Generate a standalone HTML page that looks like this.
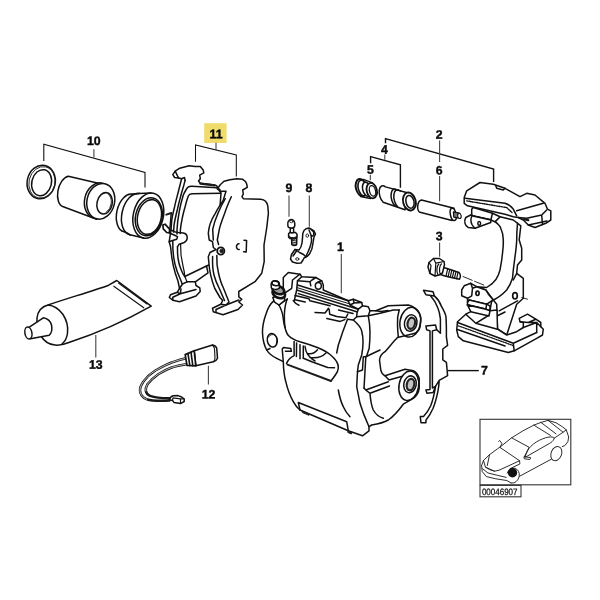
<!DOCTYPE html>
<html><head><meta charset="utf-8"><title>Brake caliper parts diagram</title>
<style>
html,body{margin:0;padding:0;background:#fff;}
body{width:600px;height:600px;overflow:hidden;}
svg{display:block;}
.l{fill:none;stroke:#111;stroke-width:1.5;stroke-linecap:round;stroke-linejoin:round;}
.w{fill:#fff;stroke:#111;stroke-width:1.5;stroke-linecap:round;stroke-linejoin:round;}
.k{fill:#1c1c1c;stroke:#1c1c1c;stroke-width:1;stroke-linejoin:round;}
.b{fill:none;stroke:#111;stroke-width:1.4;stroke-linecap:butt;stroke-linejoin:miter;}
.g{fill:none;stroke:#444;stroke-width:1.1;}
.h{fill:none;stroke:#1c1c1c;stroke-width:1.8;stroke-linecap:round;stroke-linejoin:round;}
.f{fill:none;stroke:#222;stroke-width:0.9;stroke-linecap:round;stroke-linejoin:round;}
text{text-rendering:geometricPrecision;font-family:"Liberation Sans",sans-serif;font-weight:bold;font-size:12.3px;fill:#0a0a0a;stroke:#0a0a0a;stroke-width:.4;text-anchor:middle;}
text.n{font-weight:normal;font-size:9.2px;text-anchor:start;fill:#111;stroke:#111;stroke-width:.25;}
</style></head><body>
<svg width="600" height="600" viewBox="0 0 600 600">
<rect width="600" height="600" fill="#fff"/>

<!-- LABELS-AND-LEADERS -->
<g id="labels" style="opacity:.999">
<rect x="204.2" y="123.2" width="22.4" height="19.8" fill="#f0dc6c"/>
<text x="93.8" y="144.9" transform="rotate(0.05 93.8 144.9)">10</text>
<text x="216" y="138.2" transform="rotate(0.05 216 138.2)">11</text>
<text x="288.8" y="192" transform="rotate(0.05 288.8 192)">9</text>
<text x="309" y="192" transform="rotate(0.05 309 192)">8</text>
<text x="340.5" y="251" transform="rotate(0.05 340.5 251)">1</text>
<text x="439.2" y="138.7" transform="rotate(0.05 439.2 138.7)">2</text>
<text x="384.4" y="153.8" transform="rotate(0.05 384.4 153.8)">4</text>
<text x="370.3" y="173.7" transform="rotate(0.05 370.3 173.7)">5</text>
<text x="439.2" y="174.4" transform="rotate(0.05 439.2 174.4)">6</text>
<text x="439.2" y="240.2" transform="rotate(0.05 439.2 240.2)">3</text>
<text x="484.4" y="374.5" transform="rotate(0.05 484.4 374.5)">7</text>
<text x="95.8" y="368.8" transform="rotate(0.05 95.8 368.8)">13</text>
<text x="208.5" y="398.4" transform="rotate(0.05 208.5 398.4)">12</text>
<path class="b" style="stroke-width:1.1" d="M43.8,161V144.2L145,172.5V187.5"/>
<path class="g" d="M93.9,149.3V157.6"/>
<path class="b" style="stroke-width:1.05" d="M195.5,161.8V145L236.3,155V176.5"/>
<path class="g" d="M216,142.7V149.7"/>
<path class="g" d="M289,195.6V216.7M309.3,195.6V226.7M341.3,254V293.3"/>
<path class="b" d="M385.5,143.3V138.7L493.6,169V182"/>
<path class="g" d="M439.6,140.5V162M439.6,176V201.2M439.6,242.5V256.7M370.3,174.8V180.2M384.8,154.5V159.7"/>
<path class="b" d="M370.6,163.2V156.6L400.4,164.7V187.7"/>
<path class="b" d="M448,370.6H478.8"/>
<path class="g" d="M95.8,335V357.4M208.4,365.8V384.4"/>
</g>

<!-- PART10 -->
<g id="p10">
<!-- seal ring -->
<ellipse class="w" cx="41.2" cy="182" rx="14" ry="16.9" transform="rotate(13 41.2 182)"/>
<ellipse class="f" cx="42" cy="182.4" rx="13" ry="15.9" transform="rotate(13 42 182.4)"/>
<ellipse class="w" cx="41.6" cy="182.7" rx="9.8" ry="13.2" transform="rotate(13 41.6 182.7)"/>
<!-- piston -->
<path class="w" d="M68.3,176.3L98.3,183.3L96.7,219.2L63.3,206.7A9,15.6 13 0 1 68.3,176.3Z"/>
<ellipse class="w" cx="98.4" cy="200.7" rx="13.8" ry="18" transform="rotate(13 98.4 200.7)"/>
<ellipse class="w" cx="100.8" cy="201.3" rx="13.8" ry="18" transform="rotate(13 100.8 201.3)"/>
<ellipse class="l" cx="104.6" cy="203.3" rx="7.6" ry="10.8" transform="rotate(13 104.6 203.3)"/>
<path class="f" d="M108.5,194.5A6.8,10 13 0 1 106.5,212"/>
<!-- dust boot -->
<ellipse class="w" cx="128.3" cy="213" rx="11.5" ry="19.2" transform="rotate(13 128.3 213)"/>
<path class="w" d="M131.5,194L146,192.5L142,238.3L127,231.8Z" style="stroke:none"/>
<ellipse class="w" cx="134.5" cy="214.3" rx="12.5" ry="21" transform="rotate(13 134.5 214.3)"/>
<path class="w" d="M139,193.5L152,192.5L145,238.5L130,235Z" style="stroke:none"/>
<path class="l" d="M131.8,194.2L139.5,193.2M124.5,231.4L129.8,234.6"/>
<ellipse class="w" cx="148.3" cy="215.6" rx="15" ry="23" transform="rotate(13 148.3 215.6)"/>
<path class="l" d="M139.2,193.6L151,193M130,234.8L143.5,238"/>
<ellipse class="l" cx="148.8" cy="216.8" rx="13.2" ry="19.2" transform="rotate(13 148.8 216.8)"/>
<ellipse class="l" cx="149.4" cy="217" rx="11.8" ry="17.6" transform="rotate(13 149.4 217)"/>
</g>
<!-- PART11 -->
<g id="p11">
<!-- pad 1 (rear) -->
<path class="w" d="M172.8,174.6L175.2,171.1L179.8,168.2L189.2,165.8L195,166.4L200.3,166.4L203.2,169.9L203.8,172.8L199.7,175.2L200.3,178.7L198.5,181L200.3,183.3L214.8,185.1L216.7,185.8L221,193L216,262L206.5,266L208,272.8L195.3,281.8L196,285.5L199.8,287.8L200.2,291.5L196,296L179.5,301.7L172.8,300.2L169.3,297.5L170.5,294.8L177.3,292.3L179.5,288.5L178,281C173.5,270 171.5,258 170.6,247L169.2,241.7L171,230L171.7,220.7C172,217 173,213 174.6,206.7C175.5,202 177,197 178.7,190.3L181.6,178.7L178.7,178.1L174.6,177.5Z"/>
<path class="h" d="M200.3,183.6L214.8,185.4" style="stroke-width:2.2"/>
<path class="l" d="M175.2,171.1L177.5,175.8L178.7,178.1M181.6,178.7L184.5,177.5L185.1,180.4"/>
<path class="l" d="M185.1,180.4C184,185 182.8,189 181.6,192.7C180,199 178.5,204 177.5,209C176,215 174.8,220 174,225.3L173.6,232"/>
<path class="l" d="M217,187.8L192,186.2C189,186 187.5,187 186.5,189C185,191.5 184,193.5 183.3,195C181.5,201 180.2,206 179.3,211.3C178,218 177.3,224 177,230L177,234"/>
<path class="l" d="M220.7,193.3L192,193.8C190,194 189,194.6 188.3,196C187,199.5 186,203 185.1,206.7C183.8,211 183,214.5 182.2,218.3C181.3,222.5 180.7,226 180.4,230L180.2,233.5"/>
<path class="l" d="M171,230L174.2,231.7L178.3,232.5L183.3,232.9C185.5,233.3 187,234.5 187.2,237C187.3,239.5 186,241.5 184.2,242.5L179.2,244.2L177.5,246.7"/>
<path class="l" d="M170,233.3L174.2,235L177.5,236.7L176.7,239.2L171.7,240.8L169.2,241.7"/>
<path class="l" d="M180.6,244C180.3,252 181.5,260 183,266C184,270 184.6,273 184.8,276.5L187,281.8" style="stroke-width:1.2"/>
<path class="l" d="M177.5,246.7C177.3,254 178.5,263 180.5,268C182,272 183.5,275 184.8,276.5"/>
<path class="l" d="M172.8,241C172.5,252 174.5,264 177,271C178.5,275 180.5,279 182,283.5"/>
<path class="l" d="M184.8,276.5L206.5,266M187,281.8L195.3,281.8"/>
<path class="l" d="M179.5,288.5L182.5,284L187,281.8M177.3,292.3L180.3,293.8L181,289M180.3,293.8L172.8,297.2L172.8,300.2M180.3,293.8L196,289.5"/>
<!-- retaining clip on pad 1 -->
<path class="h" d="M166.3,214.6L171.3,213" style="stroke-width:2"/>
<path class="l" d="M171.2,213.8L169.8,230.5"/>
<path class="w" d="M162.9,225L165,224.2L169.6,229.2L169.4,232.8L166.7,232.5L163.3,228.8Z" style="stroke-width:1.7"/>
<!-- pad 2 (front) -->
<path class="w" d="M217.3,188.7L220.5,184.5L224,181.3L230,179.8L236.7,178.7L242.7,179.3L245.5,181.5L246.7,184L247.3,187.3L242.7,190L243.3,194L242,196.7L243.3,198.7L260.7,199.3Q266.8,200 267.8,206L268.4,213.3L266.7,228L264,245L264.2,261.7L261.7,273.3L255,281.7L238.8,291.5L238.8,296.8L241.8,299.3L238.8,302L242.5,305L238,309.5L223,314.8L213.3,311.8L212.5,308.3L220.8,304.3L222.7,300.5L220,297.5L214.8,288.5C211.5,280 209.3,270 208.8,262L208.3,256.7L210,252.5L216,249.5L213.3,247.5L212.5,241.7L209.2,240L208.3,233.3C208.6,228 211,220 215.3,213.3C218,208 221,204 223.3,200L226,191.3L220,191.3Z"/>
<path class="l" d="M217.3,188.7L219.8,189.3L220,191.3"/>
<path class="l" d="M231.3,196.7C228,204 226,209 224.7,213.3C222.5,219 220.5,224 219.3,229.3L217.3,240L218.6,244.5"/>
<path class="l" d="M225.3,198.7C222,204 220,208.5 218,213.3C215.5,219 213.8,224 212.7,229.3L213.3,240"/>
<circle class="w" cx="220.8" cy="251" r="3.6" style="stroke-width:1.8"/>
<circle class="k" cx="221.6" cy="251" r="1.7"/>
<path class="l" d="M216.8,255.5C216.6,262 217.5,269 218.5,273C220,280 221.5,284 223,287L229,302L226,305"/>
<path class="l" d="M212.6,256.5C212.3,265 213,271 214,275C215.5,281 217.5,285 219.3,288.5L224.5,300.5"/>
<path class="l" d="M220.8,304.3L226,305L238.8,300M226,305L216,309.5L216,312.5"/>
<path class="l" d="M239,243.8C235.6,243.8 235.6,249.8 239.2,249.6M244,240.2L246.6,240.4L246.2,252L243.6,251.8"/>
</g>
<!-- PART9-8 -->
<g id="p98">
<!-- bleeder screw 9 -->
<path class="w" d="M291.6,238.5L291.8,244.6Q294.2,246.2 296.6,244.8L296.8,238.5Z"/>
<path class="l" d="M291.7,240.3L296.7,241M291.7,242L296.7,242.8M291.8,243.8L296.6,244.4" style="stroke-width:.9"/>
<path class="w" d="M288.6,233.6L290.2,232.3L295.5,232.6L297,234.2L297,237.6L294.6,238.9L290.2,238.6L288.6,237.2Z"/>
<path class="h" d="M288.8,236.2L290.4,237.6L294.6,237.9L296.8,236.6" style="stroke-width:1.5"/>
<path class="w" d="M290.4,227.5L290.2,232.3Q292,233.2 293.6,232.5L293.6,227.8Z"/>
<path class="w" d="M287.9,226C287.3,222.5 288.3,219.6 291,219.5C293.8,219.4 295,222.2 294.8,225.6C294.5,227.5 293,228.2 291,228.1C289.2,228 288.1,227.4 287.9,226Z"/>
<ellipse class="l" cx="291.3" cy="221.5" rx="1.6" ry="1.3" style="stroke-width:.8"/>
<!-- clip 8 -->
<path class="w" d="M309,228L306,228.8L304,230.5L302.8,233.5L302.5,238L302,243C301.5,246 300.5,248.5 299,250L295,249.5L291.5,254.5L290.5,259L292.5,262L297,263.2L301,263L303,260L304,258C306.5,257 308.5,255.5 309.5,254C311.5,251 312.7,247 313,243L314,237L315.5,234L314,231L311.5,229.5Z"/>
<path class="l" d="M309,230C310.6,233 311.7,236 311.6,240C311.3,245 309.5,249.5 305.5,257"/>
<path class="l" d="M311.6,229.8C313.5,231 314.3,232.8 313.8,234.6C313.3,236.2 312,236.4 311.4,235.6"/>
<path class="l" d="M295,249.5L299.5,252.5L303.5,254.5L305.8,256.8M296.5,251L293,256"/>
<ellipse class="l" cx="307.3" cy="235.6" rx="1.3" ry="1.7" style="stroke-width:.9"/>
<ellipse class="l" cx="297.3" cy="259" rx="1.6" ry="1.3" style="stroke-width:.9"/>
</g>
<!-- PART1 -->
<g id="p1">
<!-- main silhouette -->
<path class="w" d="M274,300.6C270,304 267.5,309 266,314C263.5,321 262.3,327 262.5,333C262.8,340 264.5,346 266.7,350C269,354 273,356.5 276.7,358.3L283.3,361.7C283.5,370 284.5,377 285.8,381.7C287.5,389 290,396 293.3,401.7C295,405 297.5,408 300,410L348.3,430.8L362.5,435.8L369,430.8L369,426.7L371.7,425C378,424 384,422.5 388.3,420C394,416 399,410 403.3,404.2L413.3,398.3C416.5,396 418.7,392 419.2,388.3L419.2,378.3C418,374.5 416,372 413.3,370.8L405,369.2L385,375.8C382.5,374.5 381.2,372.5 380.8,370L379.5,360C380,356 382,353.5 385,351.7C390,346 394,341 397.5,337.5L405,335.8L415,333.3C418,331.5 419.7,329 420,326.7L420.8,318.3C420.3,314.5 419,312 416.7,310C414,307 411,305.5 408.3,305L388.3,305.8L375.8,310.8L370,310.8L368.3,306.7L362.5,305.8L361.7,302.5L353.3,299.2L348.3,300.8L323.3,290L323.3,285L321.7,280.8L315.8,277.5L301.7,276.7L300,274.2L288.3,272.5L283.3,277.5L283.3,294L280,299Z"/>
<!-- top left cover and ridge -->
<path class="l" d="M300,274.2L292.5,280L291.7,288.3L283.3,294.2"/>
<path class="l" d="M301.7,276.7L297.5,280.8L296.7,290L294.2,300.8"/>
<path class="l" d="M297.5,280.8L310,281.7L310.8,285.8M315.8,277.5L312,280L310,281.7M321.7,280.8L317.5,282.2"/>
<ellipse class="l" cx="318.3" cy="285.8" rx="3" ry="3.4"/>
<!-- top parallel ridges -->
<path class="l" d="M297.5,285L348.3,300.8"/>
<path class="l" d="M297,287.6L350,304" style="stroke-width:1"/>
<path class="h" d="M296.7,290L358.3,309.2" style="stroke-width:1.7"/>
<path class="l" d="M298.3,293.6L356.7,311.8"/>
<path class="l" d="M295,295.6L309,298.8L310,300.8L330,305.8"/>
<path class="l" d="M315,312.4L325,313L327.3,310L328.5,308.3M329.2,309.2L329.7,314.2L336.7,316.5L346,317.7L347.8,314M338.5,310L353,313.6M295,299.8L305.2,302"/>
<path class="l" d="M326.8,318.6L340.2,321.4L344.8,319.6"/>
<path class="l" d="M293.3,300.6C294.5,302.5 296.5,304.2 299,305.2"/>
<!-- raised block right of ridges -->
<path class="l" d="M348.3,300.8L350,305M353.3,299.2L354,303L361.7,302.5M354,303L350,305L358.3,309.2L362.5,305.8M358.3,309.2L357,313L356.7,316.7M370,310.8L368.3,315.8"/>
<!-- bridge front edge and arm -->
<path class="l" d="M347.5,319.2L353.3,320L356.7,316.7L368.3,315.8L380,313.3L393.3,310L399.2,310"/>
<path class="l" d="M375.8,310.8L381,311.6L388,310.5"/>
<path class="l" d="M353.3,320C358,324 361,328 361.7,331C363.5,338 363.5,346 361.7,355L358.3,365L357.5,371.7"/>
<path class="l" d="M368.3,315.8C369.5,322 370,327 370,331.7C370,338 369.6,344 369.2,348.3L366.7,355.8L365.8,356.7L363.3,356.7L362.5,370L357.5,371.7L356.7,386.7L360,403.3C362,410 365,418 369,426.7"/>
<path class="l" d="M347.5,319.2C345,326 343,331 341.7,335C340.5,339 339,343 338.3,345L336.7,353"/>
<path class="l" d="M365.8,356.7L380,350"/>
<path class="l" d="M365.8,356.7L364.5,380L364,388"/>
<!-- upper lug -->
<ellipse class="l" cx="410.3" cy="322.2" rx="10.3" ry="15" transform="rotate(10 410.3 322.2)"/>
<ellipse class="l" cx="410.7" cy="323" rx="6.2" ry="8.3" transform="rotate(12 410.7 323)"/>
<ellipse cx="411.3" cy="323.3" rx="3.7" ry="5.7" transform="rotate(12 411.3 323.3)" fill="#c4c4c4" stroke="#222" stroke-width="2.2"/>
<path class="l" d="M399.2,310C397.6,315 397.2,321 397.5,325C397.6,330 398,334 398.3,336.7"/>
<!-- lower lug -->
<ellipse class="l" cx="408.8" cy="385.8" rx="9.8" ry="14.8" transform="rotate(10 408.8 385.8)"/>
<ellipse class="l" cx="410" cy="384.3" rx="6.2" ry="8.5" transform="rotate(12 410 384.3)"/>
<ellipse cx="410.5" cy="384.6" rx="3.7" ry="5.8" transform="rotate(12 410.5 384.6)" fill="#c4c4c4" stroke="#222" stroke-width="2.2"/>
<path class="l" d="M385,375.8L389,380L401.5,376.5"/>
<path class="l" d="M364,388L365.8,390L388.3,381.7M370,393.3C370.5,400 371.5,406 373.3,410C375.5,414 379,417 383.3,418.3M365.8,390L370,393.3L389.5,386"/>
<!-- left body details -->
<ellipse class="l" cx="272.3" cy="340.3" rx="5" ry="6.8" transform="rotate(-10 272.3 340.3)"/>
<path class="l" d="M268.6,337C270,334.5 273,333.8 275.2,335.5C277,337.5 277.3,341 276.3,344" style="stroke-width:1"/>
<path class="l" d="M274.5,302L279,305L287.3,299"/>
<path class="l" d="M279,305C281,309 282.3,312 282.8,315.5C283.5,320 284,325 285,327.5"/>
<path class="l" d="M287.3,299C285.5,303 284.5,310 284.3,315.5C284.3,320 284.5,324 285,327.5C286,332 287.5,335 289.5,336.5C292,339 296,340.5 300,341.8C306,343.5 312,345.5 318,347.8C323,350 327,352 330,354.5C333,357 335.5,359.5 336.8,362C338,364 338.5,366 338.3,368C338,370.5 337.3,372.5 336,374C334.5,376.5 332.5,379 331,381"/>
<path class="l" d="M283.3,361.7L282.4,351.3L282.3,349L283.5,347.6L290.8,348.5L291.4,351.3L285.4,351.3"/>
<path class="l" d="M266.7,350L270,348.5"/>
<!-- window -->
<path class="l" d="M303.3,358.3L312.5,362L327.7,367.5L334.5,367.8"/>
<path class="l" d="M294.1,341.5L294.1,355.6C291,357 288,360 286.5,363.5M296.6,343L296.4,356.5M300,344.8L300,358.8M303.3,346L303.3,358.3"/>
<path class="h" d="M287.5,364.6L331,381" style="stroke-width:2"/>
<path class="l" d="M305,346.2C305.5,352 308,357 315,361M307.5,353.5C311,354.2 315,353 317.5,349.8M310,357.5C316,358.5 322,357 326,353"/>
<!-- front lower face -->
<path class="l" d="M298.3,402.5L346.7,421.7L348.3,430.8M298.3,402.5L300,410"/>
<path class="k" d="M302,411L309,414L309,415.3L302.5,412.6Z M348,430.8L352,432.4L351.5,434L347.8,432.5Z"/>
<!-- inner curves -->
<path class="l" d="M338.3,390C339.5,397 341,402 343.3,406.7C345,410.5 347.5,414 350,416.7"/>
<!-- bleeder on caliper -->
<path class="w" d="M272.8,297.5L274.5,302L279,305L284.5,300.5L285,293Z"/>
<ellipse class="w" cx="278.8" cy="293.6" rx="6.6" ry="4.2" transform="rotate(22 278.8 293.6)" style="stroke-width:2.6"/>
<ellipse class="w" cx="278.3" cy="290" rx="6.2" ry="3.9" transform="rotate(22 278.3 290)" style="stroke-width:2.6;fill:#999"/>
<path class="w" d="M271.1,285C270.8,282.5 272.6,280.8 275.2,280.8C277.8,280.8 279.5,282.5 279.5,285L279.3,288.2C277,290 273.5,289.6 271.4,288Z"/>
<ellipse class="l" cx="275.4" cy="283.4" rx="3.6" ry="2.2" transform="rotate(12 275.4 283.4)"/>
</g>
<!-- PART13 -->
<g id="p13">
<path class="w" d="M48,305C66,298.8 92,291.2 108.7,285.2L116.8,280.5L151.2,306.2C125,321 97,333.5 68.8,342.5C64,344.5 59,345.5 55,345C49,344.5 44,341 41,336C38,331 36.5,324 37,318C37.8,311.5 42,306.5 48,305Z"/>
<path class="l" d="M48,305C54,305.5 59,309 63,314.5C66.5,320 68.3,327 67.5,333C67,338 65,341.5 62,344"/>
<path class="l" d="M113.8,286.2L143.8,307.8M118.5,283L147,304" style="stroke-width:1.1"/>
<!-- nozzle -->
<path class="w" d="M29.3,327.2L43.3,317.8C47.5,318.5 50.5,321.5 51.5,325C52.4,329 51.5,333 49.2,335.3L30.5,338.8Z"/>
<ellipse class="w" cx="28.4" cy="333" rx="3.5" ry="6" transform="rotate(-10 28.4 333)"/>
</g>
<!-- PART12 -->
<g id="p12">
<!-- wires -->
<path d="M186,358.3C180,359.5 176,361 171.7,362.5C165,365 160,368 155,370.8C150,374 146,378 143.3,381.7C141,385 140,388 140,390C140,394 142.5,397.5 146.7,399.2C152,401 160,401 169.5,400.6" fill="none" stroke="#1a1a1a" stroke-width="2.5" stroke-linecap="round"/>
<path d="M186,358.3C180,359.5 176,361 171.7,362.5C165,365 160,368 155,370.8C150,374 146,378 143.3,381.7C141,385 140,388 140,390C140,394 142.5,397.5 146.7,399.2" fill="none" stroke="#fff" stroke-width=".7" stroke-linecap="round"/>
<path d="M186.5,364.2C181,365 176,366 171.7,367.5C166,369.5 162,372 158.3,374.2C153.5,377.5 150,381 147.5,384.2C146,387 145.5,389 145.8,390.8C146.3,393.5 147.8,395 150,395.8C155,397.5 162,398.3 169.5,398.2" fill="none" stroke="#1a1a1a" stroke-width="2.5" stroke-linecap="round"/>
<path d="M186.5,364.2C181,365 176,366 171.7,367.5C166,369.5 162,372 158.3,374.2C153.5,377.5 150,381 147.5,384.2C146,387 145.5,389 145.8,390.8" fill="none" stroke="#fff" stroke-width=".7" stroke-linecap="round"/>
<!-- connector -->
<path class="w" d="M194.2,350.8L212.5,345Q216,345.5 216.7,348.3L217.5,358.3Q216.5,361 213.3,361.7L195.8,365.8Z"/>
<path class="l" d="M212.5,345Q214.4,347 214.6,350L215,358.5Q214.6,361 213.3,361.7" style="stroke-width:1.1"/>
<path class="w" d="M185.2,354.6L194.2,350.8L195.8,365.8L187,365.4Z" style="stroke-width:1.7"/>
<path class="l" d="M188,353.6L189.8,365.4M191,352.4L192.8,365.6" style="stroke-width:1.6"/>
<!-- end clip -->
<path class="w" d="M169.2,399.8L171,396.8L173.3,395.8L178,395.6L181.7,397L184.2,399L184.2,401.5L180.5,403.6L174,402.4L172.5,400.5Z" style="stroke-width:1.5"/>
<path class="l" d="M173,397.8L180.5,398.8L184,398.8M180.5,398.8L180.5,403.4M173,397.8L172.5,400.5" style="stroke-width:1.2"/>
</g>
<!-- PART456 -->
<g id="p456">
<!-- bellows 5 -->
<path class="w" d="M361.5,179L372.5,182.8L371.5,198.4L360.5,196.4Z" style="stroke:none"/>
<ellipse class="w" cx="361.2" cy="187.6" rx="5.3" ry="8.8" transform="rotate(-14 361.2 187.6)" style="stroke-width:2"/>
<ellipse class="w" cx="362.6" cy="188" rx="4.4" ry="7.9" transform="rotate(-14 362.6 188)" style="stroke-width:1.6"/>
<path class="l" d="M363.4,179.4L372.6,182.9M360.6,196.4L370.6,198.4"/>
<ellipse class="w" cx="366.6" cy="189.2" rx="3.9" ry="7.2" transform="rotate(-14 366.6 189.2)" style="stroke-width:1.6"/>
<ellipse class="w" cx="371.8" cy="190.6" rx="5.1" ry="7.8" transform="rotate(-14 371.8 190.6)" style="stroke-width:1.8"/>
<ellipse class="l" cx="372.5" cy="190.9" rx="3" ry="5.4" transform="rotate(-14 372.5 190.9)" style="stroke-width:1.3"/>
<!-- sleeve 4 -->
<path class="w" d="M385.4,186.9L408.3,193L405,209.8L383.2,202.2A4.2,7.9 -14 0 1 385.4,186.9Z"/>
<path class="l" d="M397.6,190.3A4.2,8 -14 0 0 395.2,206.3M400.4,191A4.2,8 -14 0 0 398,207.2"/>
<ellipse class="w" cx="409.4" cy="201.5" rx="6.3" ry="9.1" transform="rotate(-14 409.4 201.5)" style="stroke-width:1.9"/>
<ellipse class="l" cx="410" cy="201.8" rx="4" ry="6.5" transform="rotate(-14 410 201.8)"/>
<!-- pin 6 -->
<path class="w" d="M421.5,200L454,208.3L452.1,220.5L420,212.3C416.4,210.5 417,201 421.5,200Z"/>
<ellipse class="w" cx="453.2" cy="214.4" rx="2.8" ry="6.2" transform="rotate(-12 453.2 214.4)"/>
<path d="M453.4,211.8L459.4,213.2Q461.4,215.2 460.2,218.4L453.8,217.2Z" fill="#777" stroke="#111" stroke-width="1.2" stroke-linejoin="round"/>
<ellipse class="w" cx="459.4" cy="215.9" rx="1.7" ry="2.6" transform="rotate(-12 459.4 215.9)" style="stroke-width:1.1"/>
</g>
<!-- PART3 -->
<g id="p3">
<path class="w" d="M439.5,266.5L447,268.5L459,272.5Q461.5,275.5 459.5,279.2L445,276L439,274Z"/>
<path class="l" d="M447.6,269L446,276.2M449.7,269.6L448.1,276.8M451.8,270.2L450.2,277.3M453.9,270.9L452.3,277.8M456,271.6L454.4,278.3M458,272.4L456.6,278.8" style="stroke-width:1.2"/>
<path class="w" d="M428,267L429,262.5L433.5,258.5L439.5,258.5L444,261.5L444.5,264.5L442.5,273L439,275L435,276L430,273.5Z"/>
<path class="l" d="M433.5,258.5L435.8,263.2L435,276M435.8,263.2L444,261.5M429,262.5L431,265.5L430,273.5" style="stroke-width:1.2"/>
<path class="l" d="M438.8,264C436.6,266 436.2,271.5 438,275M441.5,263.8C439.2,265.5 438.8,271.5 440.6,274.5" style="stroke-width:1.2"/>
<path class="l" d="M463,276.5L486,286" style="stroke-width:.9;stroke-dasharray:10 2.5"/>
</g>
<!-- PART2 -->
<g id="p2">
<!-- arch -->
<path class="w" d="M495,221.7C498,224 500,226 500.8,228.3C502.5,232 503.2,236 503.3,240C503.5,245 503,249 502.5,253.3C502,259 501,265 500,270L498.3,275C497,278.5 495,281 492.5,283.3L486.7,287.5L476.7,286.7L485.8,290L493.3,300L496.7,304.2L497.5,329L506.7,335L516.7,304.2L523.3,298.3L523.3,278.3L516.7,273.3L517.5,265L521.7,260L521.7,248.3L519.2,240L520.8,225.8L513.3,220L500,216.7Z"/>
<path class="l" d="M517.5,223.3C517,229 516.7,235 516.7,240C516.5,246 515.8,251 515,256.7L513.3,270L512.5,278.3C511,283 509,287 506.7,290C502,295 496,299 491.7,300.8"/>
<path class="l" d="M516.7,273.3L513.3,280M499.2,310.8L517.5,300.8M497,316L505,312"/>
<ellipse class="l" cx="515" cy="295.8" rx="2.3" ry="3.2" style="stroke-width:1.7"/>
<path class="l" d="M521.7,297.5L527.5,299.2" style="stroke-width:.9"/>
<!-- top block -->
<path class="w" d="M464.2,197.5L466.7,190.8L480,182.5L493.3,184.2L505,188.3L520,196.7L526.7,193.3L535,195L545,203.3L547.5,209.2L550.8,210.8L550.8,220L545.8,223.3L535,227.5L528.3,225L523.3,220L518.3,217.5L513.3,216.7L505,214.2L467.5,205.8L464.2,203.3Z"/>
<path class="l" d="M465,198.3L505,203.3C509,204.5 511.5,206.5 513.3,209.2L516.7,215.8"/>
<path class="l" d="M466.7,200.9L506.7,207.6L512,212.5" style="stroke-dasharray:1.3 1.2;stroke-width:1.4"/>
<path class="l" d="M516.7,210.8L543.3,203.3M518.3,217.5L526.7,218.3L541.7,215L546.7,210M541.7,215L542.5,224.5"/>
<path class="l" d="M495.8,185.8L496.7,188.3L503.3,190L505,188.3"/>
<path class="h" d="M523.3,219.2L528.3,220.2" style="stroke-width:2.2"/>
<path class="l" d="M528.3,225L547,221"/>
<!-- under block and left lug -->
<path class="w" d="M471.7,209.2L473.3,207.5L492.5,213.3L500,216.7L495,221.7L490.8,220L471.7,215.8Z"/>
<path class="h" d="M471.7,215.8L490.8,220" style="stroke-width:1.9"/>
<path class="l" d="M492.5,213.3L490.8,220"/>
<path class="w" d="M471.7,214.5L465.8,217.5C464.6,219.5 464.5,221.5 465,223.3C465.5,225.5 466.8,226.8 468.3,227.5L475,228.3L490.8,222.5L490.8,220L471.7,215.8Z"/>
<path class="l" d="M471.7,216.5C470.5,219 470.8,222 472,224.5C472.8,226 473.8,227.3 475,228.3"/>
<ellipse class="l" cx="479.2" cy="223.4" rx="1.4" ry="1.9" style="stroke-width:1.5"/>
<!-- lower lug -->
<path class="w" d="M461.7,290L464.2,285.8L470.8,283.3L476.7,286.7L485.8,290L489,295L493.3,300L486.7,304.2L469.2,300L467.5,302.5L467.5,298.3L461.7,295.8Z"/>
<path class="l" d="M470.8,283.3L472.5,288.3L471.7,295.8L467.5,298.3M472.5,288.3L476.7,286.7"/>
<ellipse class="l" cx="477.5" cy="293.3" rx="1.6" ry="2.2" style="stroke-width:1.7"/>
<!-- small block under lug -->
<path class="w" d="M467.5,302.5L469.2,300L486.7,304.2L490,306L490,310.8L485.8,309.2L467.5,305Z"/>
<path class="h" d="M467.5,305L485.8,309.2" style="stroke-width:1.9"/>
<path class="l" d="M486.7,304.2L485.8,309.2"/>
<!-- base -->
<path class="w" d="M467.5,305L470.8,311.7L465.8,314.2L457.5,321.7L456.7,330L458.3,336.7L463.3,340.8L508.3,352.5L514.2,350.8L536.7,338.3L542.5,335L543.3,329.2L540.8,326.7L540.8,322.5L535.8,319.2L527.5,314.2L519.2,318.3L520,321.7L523.3,322.5L523.3,327.5L516.7,331.7L506.7,335L497.5,329.2L497,310L490,310.8L485.8,309.2Z"/>
<path class="l" d="M457.5,322.5L513.3,343.3L514.2,350.8M513.3,343.3L536.7,332.5"/>
<path class="l" d="M458.3,325.8L513.3,345.6" style="stroke-dasharray:1.3 1.2;stroke-width:1.3"/>
<path class="l" d="M457.5,329.5L505,346"/>
<path class="l" d="M465.8,314.2L475.8,323.3L489.2,315L491.7,300.8M475.8,323.3L497.5,329.2M470.8,311.7L489,316"/>
<path class="l" d="M520,321.7L528.3,322.5L535.8,319.2M528.3,322.5L536.7,322.5L540.8,326.7M523.3,327.5L536.7,322.5L536.7,332.5"/>
</g>
<!-- PART7 -->
<g id="p7">
<path class="w" d="M423.5,290.3L433.1,291.8L434.3,295.9L425.9,294.7Z"/>
<path class="l" d="M434.3,295.9C438,299 440.3,303 441.6,306.7C443.5,310 445.2,313 445.9,316.4C446.5,323 446.4,330 446.4,336.9L447.6,345.4L442.8,349L442.8,359.9L446.4,362.3L447.6,375.6L439.2,380.4C439,385 438.5,388.5 437.9,391.3C436.5,398 435,403.5 433.1,408.2C431,413 428.5,417 425.9,420.3L425.9,422.7L421,422.7L420.3,416.6L423.5,416.6C426.5,413.5 429,409.5 430.7,405.8C433,400 434.5,393 435.5,386.4L439.2,380.4"/>
<path class="l" d="M430.7,295.9C434,299.5 436.3,303.5 437.9,307.9C439.3,311.5 440,315 440.4,318.8L440.4,333.3L436.7,329.7"/>
<path class="l" d="M425.9,326.1L435.5,324.9L436.7,329.7L432.4,330.9L432.4,388L435.5,386.4L433.1,392.5L427,393.2L425.9,390L430,389.5L430,330.9L426.6,329.7Z"/>
</g>
<!-- CAR -->
<g id="car" style="opacity:.999">
<rect x="480" y="419.3" width="90.8" height="65.5" fill="#fff" stroke="#333" stroke-width="1.1"/>
<rect x="480" y="485.4" width="41" height="11.4" fill="#fff" stroke="#333" stroke-width="1.1"/>
<text class="n" x="481.9" y="494.8" textLength="35.6" lengthAdjust="spacingAndGlyphs">00046907</text>
<g transform="translate(480 418) scale(0.15833)" fill="none" stroke="#222" stroke-width="6" stroke-linecap="round" stroke-linejoin="round">
<path d="M10,300L22,268L60,232L110,195L125,185L200,125L270,82L340,45L385,28L430,15L480,30L520,55L545,75L560,120L555,150L535,175L520,180"/>
<path d="M10,300L14,338L40,370L100,384L170,395L195,410"/>
<path d="M16,320L50,347L110,362L165,375"/>
<path d="M22,268L34,310L60,326L92,336L120,330L250,270L125,185"/>
<path d="M60,232L46,300M34,310L92,336"/>
<path d="M200,125L310,185L280,245"/>
<path d="M285,245C295,215 305,195 320,180C345,155 370,142 395,132C420,122 440,118 455,120C465,122 470,126 468,132C462,145 450,155 440,160L300,240Z"/>
<path d="M280,245L320,250L315,262L282,258Z"/>
<path d="M340,45L445,110M385,28L480,100M430,15L525,90L545,75M468,128L525,90"/>
<path d="M118,148L124,142L138,160L128,184"/>
<ellipse cx="482" cy="225" rx="33" ry="46" transform="rotate(22 482 225)"/>
<path d="M447,262L250,368"/>
<path d="M172,348C180,325 200,312 222,318C242,326 250,345 248,365C245,385 235,400 215,410L195,410"/>
<path d="M250,270L252,290L190,320"/>
</g>
<circle cx="512.5" cy="472.8" r="4.7" fill="#111"/>
</g>
</svg>
</body></html>
